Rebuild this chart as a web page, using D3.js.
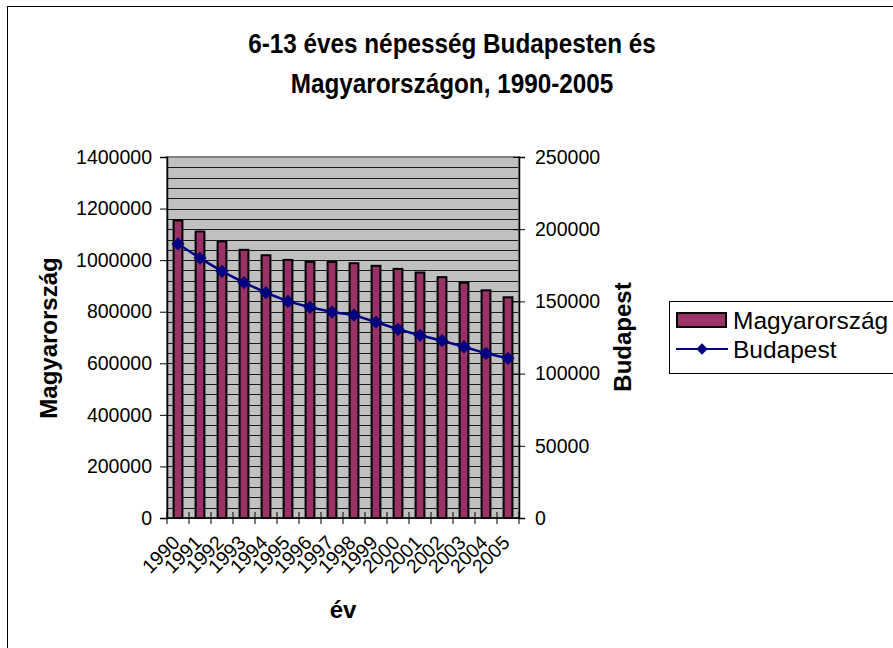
<!DOCTYPE html>
<html>
<head>
<meta charset="utf-8">
<script src="https://cdn.jsdelivr.net/npm/d3@7"></script>
<style>
  body { margin: 0; background: #fff; }
  svg { font-family: Arial, "Liberation Sans", sans-serif; }
</style>
</head>
<body>
<svg id="chart"></svg>
<script>
const years = ['1990', '1991', '1992', '1993', '1994', '1995', '1996', '1997',
  '1998', '1999', '2000', '2001', '2002', '2003', '2004', '2005'];
const magyarorszag = [1154000, 1111000, 1073000, 1040000, 1019000, 1001000, 993000, 993000,
  988000, 978000, 966000, 952000, 934000, 912000, 883000, 856000];
const budapest = [189800, 180000, 170800, 163000, 156000, 150000, 145900, 142600,
  140500, 135700, 130700, 126500, 122800, 118600, 114000, 110600];
const leftTicks = [0, 200000, 400000, 600000, 800000, 1000000, 1200000, 1400000];
const rightTicks = [0, 50000, 100000, 150000, 200000, 250000];

const svg = d3.select('#chart')
  .attr('width', 893)
  .attr('height', 648);

const plot = { left: 167, right: 519, top: 157, bottom: 518 };

// outer chart frame (only top and left edges fall inside the picture)
svg.append('rect')
  .attr('x', 7.5).attr('y', 6.5)
  .attr('width', 1000).attr('height', 1000)
  .attr('fill', 'none').attr('stroke', '#000').attr('stroke-width', 1);

const x = d3.scaleBand()
  .domain(years)
  .range([plot.left, plot.right])
  .paddingInner(0.6)
  .paddingOuter(0.3);

const yLeft = d3.scaleLinear()
  .domain([0, 1400000])
  .range([plot.bottom, plot.top]);

const yRight = d3.scaleLinear()
  .domain([0, 250000])
  .range([plot.bottom, plot.top]);

svg.append('rect')
  .attr('x', plot.left).attr('y', plot.top)
  .attr('width', plot.right - plot.left).attr('height', plot.bottom - plot.top)
  .attr('fill', '#c0c0c0');

// gridlines every 40000 on the left axis
svg.append('g')
  .selectAll('line')
  .data(d3.range(40000, 1400001, 40000))
  .enter().append('line')
  .attr('x1', plot.left).attr('x2', plot.right)
  .attr('y1', d => Math.round(yLeft(d)) + 0.5)
  .attr('y2', d => Math.round(yLeft(d)) + 0.5)
  .attr('stroke', '#1a1a1a')
  .attr('stroke-width', 1);

svg.append('rect')
  .attr('x', plot.left).attr('y', plot.top)
  .attr('width', plot.right - plot.left).attr('height', plot.bottom - plot.top)
  .attr('fill', 'none').attr('stroke', '#808080').attr('stroke-width', 2);

svg.append('g')
  .selectAll('rect')
  .data(magyarorszag)
  .enter().append('rect')
  .attr('x', (d, i) => x(years[i]))
  .attr('y', d => yLeft(d))
  .attr('width', x.bandwidth())
  .attr('height', d => plot.bottom - yLeft(d))
  .attr('fill', '#993366')
  .attr('stroke', '#000')
  .attr('stroke-width', 2);

// axes
const leftAxis = svg.append('g')
  .attr('transform', `translate(${plot.left},0)`)
  .call(d3.axisLeft(yLeft).tickValues(leftTicks).tickSize(7).tickPadding(8).tickFormat(d3.format('d')));

const rightAxis = svg.append('g')
  .attr('transform', `translate(${plot.right},0)`)
  .call(d3.axisRight(yRight).tickValues(rightTicks).tickSize(6).tickPadding(10).tickFormat(d3.format('d')));
rightAxis.selectAll('.tick line').attr('x1', -6);

const boundaries = d3.range(years.length + 1).map(i => plot.left + i * (plot.right - plot.left) / years.length);
svg.append('g')
  .selectAll('line')
  .data(boundaries)
  .enter().append('line')
  .attr('x1', d => d).attr('x2', d => d)
  .attr('y1', plot.bottom - 6).attr('y2', plot.bottom + 6)
  .attr('stroke', '#000');

svg.append('line')
  .attr('x1', plot.left).attr('x2', plot.right)
  .attr('y1', plot.bottom).attr('y2', plot.bottom)
  .attr('stroke', '#000').attr('stroke-width', 1.5);

[leftAxis, rightAxis].forEach(a => {
  a.select('.domain').attr('stroke', '#000').attr('stroke-width', 1.5);
  a.selectAll('.tick line').attr('stroke', '#000');
  a.selectAll('text').attr('font-size', 19.5).attr('fill', '#000');
});

svg.append('g')
  .selectAll('text')
  .data(years)
  .enter().append('text')
  .attr('transform', d => `translate(${x(d) + x.bandwidth() / 2 - 2},${plot.bottom + 21}) rotate(-45)`)
  .attr('text-anchor', 'end')
  .attr('dy', '0.35em')
  .attr('font-size', 19.5)
  .text(d => d);

// Budapest line
const line = d3.line()
  .x((d, i) => x(years[i]) + x.bandwidth() / 2)
  .y(d => yRight(d));

svg.append('path')
  .datum(budapest)
  .attr('d', line)
  .attr('fill', 'none')
  .attr('stroke', '#000080')
  .attr('stroke-width', 2.5);

svg.append('g')
  .selectAll('path')
  .data(budapest)
  .enter().append('path')
  .attr('transform', (d, i) => `translate(${x(years[i]) + x.bandwidth() / 2},${yRight(d)}) rotate(45)`)
  .attr('d', d3.symbol().type(d3.symbolSquare).size(88))
  .attr('fill', '#000080');

// titles
const title = svg.append('text')
  .attr('transform', 'translate(452,0) scale(0.9,1)')
  .attr('text-anchor', 'middle')
  .attr('font-size', 27)
  .attr('font-weight', 'bold');
title.append('tspan').attr('x', 0).attr('y', 53).text('6-13 éves népesség Budapesten és');
title.append('tspan').attr('x', 0).attr('y', 93).text('Magyarországon, 1990-2005');

svg.append('text')
  .attr('transform', 'translate(57,338) rotate(-90)')
  .attr('text-anchor', 'middle')
  .attr('font-size', 24)
  .attr('font-weight', 'bold')
  .text('Magyarország');

svg.append('text')
  .attr('transform', 'translate(631,337) rotate(-90)')
  .attr('text-anchor', 'middle')
  .attr('font-size', 24)
  .attr('font-weight', 'bold')
  .text('Budapest');

svg.append('text')
  .attr('x', 343).attr('y', 618)
  .attr('text-anchor', 'middle')
  .attr('font-size', 24)
  .attr('font-weight', 'bold')
  .text('év');

// legend
const legend = svg.append('g');
legend.append('rect')
  .attr('x', 669.5).attr('y', 301.5)
  .attr('width', 300).attr('height', 72)
  .attr('fill', '#fff').attr('stroke', '#000');
legend.append('rect')
  .attr('x', 677).attr('y', 313)
  .attr('width', 49).attr('height', 14)
  .attr('fill', '#993366').attr('stroke', '#000').attr('stroke-width', 2);
legend.append('text')
  .attr('x', 733).attr('y', 329)
  .attr('font-size', 24.5)
  .text('Magyarország');
legend.append('line')
  .attr('x1', 676).attr('x2', 728)
  .attr('y1', 349).attr('y2', 349)
  .attr('stroke', '#000080').attr('stroke-width', 2);
legend.append('path')
  .attr('transform', 'translate(702,349) rotate(45)')
  .attr('d', d3.symbol().type(d3.symbolSquare).size(64))
  .attr('fill', '#000080');
legend.append('text')
  .attr('x', 733).attr('y', 358)
  .attr('font-size', 24.5)
  .text('Budapest');
</script>
</body>
</html>
